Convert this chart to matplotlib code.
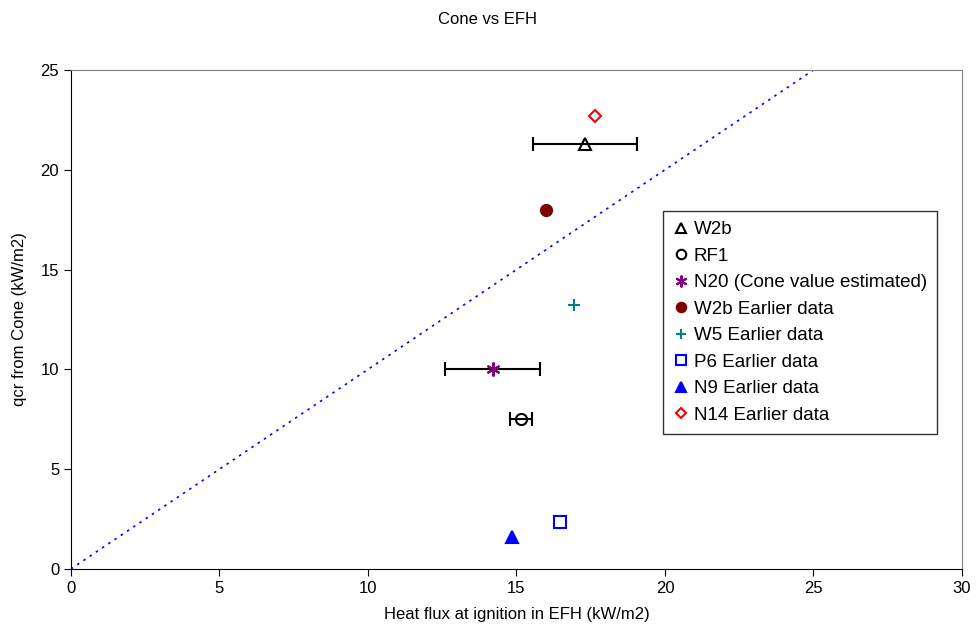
import matplotlib
matplotlib.use("Agg")
import matplotlib.pyplot as plt

plt.rcParams['font.family'] = ['Liberation Sans', 'DejaVu Sans']

labels = ["W2b", "RF1", "N20 (Cone value estimated)", "W2b Earlier data",
          "W5 Earlier data", "P6 Earlier data", "N9 Earlier data", "N14 Earlier data"]
x_vals = [17.3, 15.15, 14.2, 16.0, 16.95, 16.45, 14.85, 17.65]
y_vals = [21.3, 7.5, 10.0, 18.0, 13.25, 2.35, 1.6, 22.7]
x_err = [1.75, 0.37, 1.6, None, None, None, None, None]
markers = ["^", "o", (6, 2, 0), "o", "+", "s", "^", "D"]
edge_colors = ["black", "black", "#800080", "#800000", "#008080", "blue", "blue", "red"]
face_colors = ["none", "none", "#800080", "#800000", "#008080", "none", "blue", "#ccffff"]
sizes = [8, 8, 10, 8, 9, 8, 8, 6]

fig = plt.figure(figsize=(9.76, 6.4), dpi=100)
ax = fig.add_axes([0.0727, 0.111, 0.9129, 0.7796])

ax.plot([0, 30], [0, 30], linestyle=(0, (1.5, 3)), color="blue", linewidth=1.2, zorder=1)

for i in range(len(labels)):
    if x_err[i] is not None:
        ax.errorbar(x_vals[i], y_vals[i], xerr=x_err[i], fmt="none", ecolor="black",
                    elinewidth=1.5, capsize=5, capthick=1.5, zorder=2)
    ax.plot(x_vals[i], y_vals[i], linestyle="none", marker=markers[i], markersize=sizes[i],
            markeredgecolor=edge_colors[i], markerfacecolor=face_colors[i],
            markeredgewidth=1.5, color=edge_colors[i], label=labels[i], zorder=3)

ax.set_xlim(0, 30)
ax.set_ylim(0, 25)
ax.set_xticks(range(0, 31, 5))
ax.set_yticks(range(0, 26, 5))
ax.tick_params(direction="out", length=5, color="black", labelsize=12)
for s in ax.spines.values():
    s.set_color("#808080")
ax.spines['left'].set_color("black")
ax.spines['bottom'].set_color("black")

ax.set_xlabel("Heat flux at ignition in EFH (kW/m2)", fontsize=12, labelpad=8)
ax.set_ylabel("qcr from Cone (kW/m2)", fontsize=12, labelpad=10)
fig.suptitle("Cone vs EFH", x=0.5, y=0.982, fontsize=12)

leg = ax.legend(loc="upper left", bbox_to_anchor=(0.664, 0.718), fontsize=13.5,
                frameon=True, fancybox=False, edgecolor="black", handlelength=0.9,
                handletextpad=0.2, borderpad=0.55, labelspacing=0.5, borderaxespad=0,
                markerscale=0.85)
leg.get_frame().set_linewidth(1.0)

fig.savefig("out.png", dpi=100)
